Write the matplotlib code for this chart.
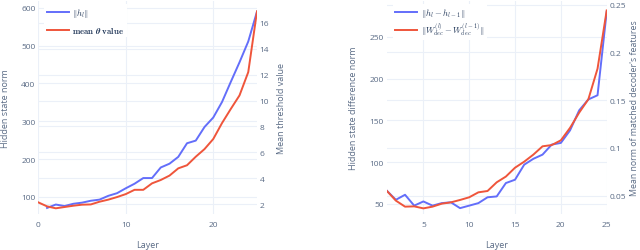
import numpy as np
import matplotlib
matplotlib.use('Agg')
import matplotlib.pyplot as plt

plt.rcParams['font.family'] = ['Open Sans', 'DejaVu Sans']
plt.rcParams['mathtext.fontset'] = 'cm'

# Panneau gauche : norme des états cachés et seuil moyen par couche
couches_h = list(range(1, 26))
norme_h = [71, 80, 76, 82, 85, 90, 93, 103, 110, 123, 135, 150, 150, 178, 188,
           206, 242, 249, 285, 310, 351, 404, 456, 511, 590]
couches_theta = list(range(0, 26))
theta_moyen = [2.13, 1.82, 1.67, 1.77, 1.87, 1.95, 1.97, 2.18, 2.34, 2.54, 2.77,
               3.10, 3.10, 3.60, 3.86, 4.20, 4.76, 5.00, 5.66, 6.25, 7.03, 8.26,
               9.35, 10.4, 12.2, 16.9]

# Panneau droit : différences entre couches successives
couches_diff = list(range(1, 26))
diff_h = [66, 55, 61, 48, 53, 48, 51, 52, 45, 48, 51, 58, 59, 75, 79, 97, 104,
          109, 121, 123, 138, 162, 175, 180, 280]
diff_w = [0.0552, 0.0448, 0.0385, 0.0388, 0.0367, 0.0385, 0.0416, 0.0430,
          0.0455, 0.0483, 0.0535, 0.0549, 0.0640, 0.0700, 0.0793, 0.0856,
          0.0930, 0.1017, 0.1030, 0.1080, 0.1210, 0.1370, 0.1510, 0.1830,
          0.2440]

ticks_g_gauche = [100, 200, 300, 400, 500, 600]
ticks_g_droite = [2, 4, 6, 8, 10, 12, 14, 16]
ticks_g_x = [0, 10, 20]
ticks_d_gauche = [50, 100, 150, 200, 250]
ticks_d_droite = [0.05, 0.1, 0.15, 0.2, 0.25]
labels_d_droite = ['0.05', '0.1', '0.15', '0.2', '0.25']
ticks_d_x = [5, 10, 15, 20, 25]

BLEU = '#636EFA'
ROUGE = '#EF553B'
GRILLE = '#EBF0F8'
TEXTE = '#5a6b85'
TEXTE_LEG = '#2a3f5f'

W, H = 640, 251
fig = plt.figure(figsize=(W / 100, H / 100), dpi=100)


def axe_px(x0, x1, y_haut, y_bas):
    return fig.add_axes([x0 / W, (H - y_bas) / H, (x1 - x0) / W, (y_bas - y_haut) / H])


def habiller(ax, ax2, lim1, lim2, ticks1, ticks2, ticksx, xlim):
    ax.set_xlim(*xlim)
    ax.set_ylim(*lim1)
    ax2.set_ylim(*lim2)
    ax.set_xticks(ticksx)
    ax.set_yticks(ticks1)
    ax2.set_yticks(ticks2)
    for a in (ax, ax2):
        for s in a.spines.values():
            s.set_visible(False)
        a.tick_params(length=0, labelsize=6, labelcolor=TEXTE)
    ax.tick_params(axis='y', pad=2)
    ax.tick_params(axis='x', pad=5)
    ax2.tick_params(axis='y', pad=2)
    ax.grid(True, color=GRILLE, lw=0.8, zorder=0)
    ax.set_axisbelow(True)
    # lignes de grille de l'axe droit, dessinées sous les courbes
    for t in ticks2:
        f = (t - lim2[0]) / (lim2[1] - lim2[0])
        ax.plot([0, 1], [f, f], transform=ax.transAxes, color=GRILLE, lw=0.8, zorder=0.5)


def legende(axe, poignees, esp):
    leg = axe.legend(handles=poignees, loc='upper left', bbox_to_anchor=(0.02, 0.995),
                     fontsize=6.3, frameon=True, facecolor='white', edgecolor='none',
                     framealpha=1, fancybox=False, handlelength=2.5, handletextpad=0.4,
                     labelspacing=esp, borderpad=0.3, borderaxespad=0.2)
    for t in leg.get_texts():
        t.set_color(TEXTE_LEG)


# ---- panneau gauche ----
ax = axe_px(38.3, 257, 2, 215)
ax2 = ax.twinx()
habiller(ax, ax2, (55, 618), (1.23, 17.7), ticks_g_gauche, ticks_g_droite, ticks_g_x, (0, 25))
l1, = ax.plot(couches_h, norme_h, color=BLEU, lw=1.4, label=r'$\|\boldsymbol{h_l}\|$')
l2, = ax2.plot(couches_theta, theta_moyen, color=ROUGE, lw=1.4,
               label=r'$\mathbf{mean}\ \boldsymbol{\theta}\ \mathbf{value}$')
ax.set_xlabel('Layer', fontsize=6.5, color=TEXTE, va='center')
ax.xaxis.set_label_coords(0.5, -0.141)
ax.set_ylabel('Hidden state norm', fontsize=6.5, color=TEXTE, va='center')
ax.yaxis.set_label_coords(-0.152, 0.5)
ax2.set_ylabel('Mean threshold value', fontsize=6.5, color=TEXTE, va='center')
ax2.yaxis.set_label_coords(1.113, 0.5)
legende(ax2, [l1, l2], 0.6)

# ---- panneau droit ----
bx = axe_px(386.7, 606.7, 2, 215)
bx2 = bx.twinx()
habiller(bx, bx2, (38, 292.7), (0.0308, 0.2539), ticks_d_gauche, ticks_d_droite, ticks_d_x, (1, 25))
bx2.set_yticklabels(labels_d_droite)
m1, = bx.plot(couches_diff, diff_h, color=BLEU, lw=1.4,
              label=r'$\|\boldsymbol{h_l} - \boldsymbol{h_{l-1}}\|$')
m2, = bx2.plot(couches_diff, diff_w, color=ROUGE, lw=1.4,
               label=r'$\|\boldsymbol{W_{dec}^{(l)}} - \boldsymbol{W_{dec}^{(l-1)}}\|$')
bx.set_xlabel('Layer', fontsize=6.5, color=TEXTE, va='center')
bx.xaxis.set_label_coords(0.5, -0.141)
bx.set_ylabel('Hidden state difference norm', fontsize=6.5, color=TEXTE, va='center')
bx.yaxis.set_label_coords(-0.152, 0.5)
bx2.set_ylabel("Mean norm of matched decoder's features", fontsize=6.3, color=TEXTE, va='center')
bx2.yaxis.set_label_coords(1.126, 0.5)
legende(bx2, [m1, m2], 0.25)

fig.savefig('out.png', dpi=100)
